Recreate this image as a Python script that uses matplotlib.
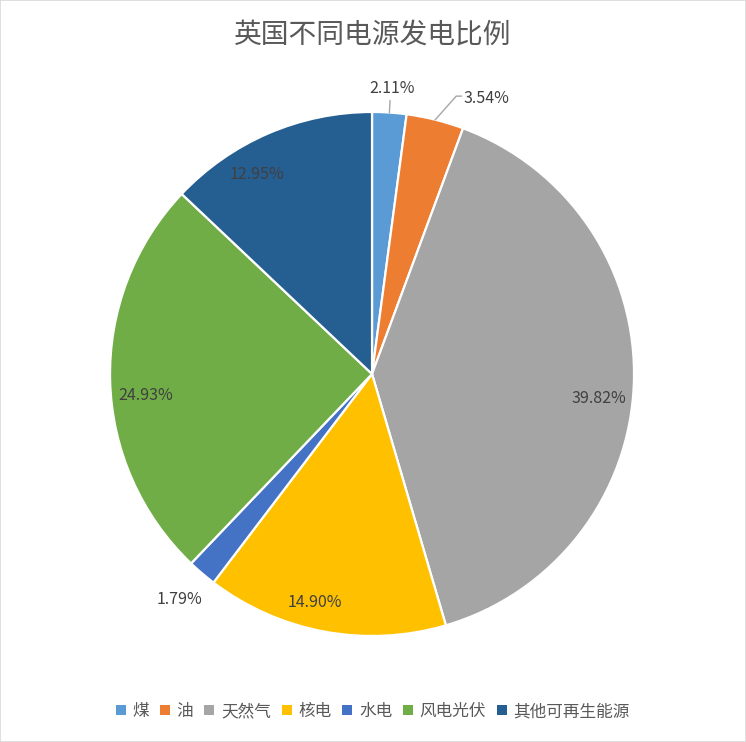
import numpy as np
import matplotlib.pyplot as plt
from matplotlib.patches import Patch, Rectangle

plt.rcParams['font.family'] = ['Noto Sans CJK SC', 'DejaVu Sans']

# data
sources = ['煤', '油', '天然气', '核电', '水电', '风电光伏', '其他可再生能源']
shares = [2.11, 3.54, 39.82, 14.90, 1.79, 24.93, 12.95]
colors = ['#5B9BD5', '#ED7D31', '#A5A5A5', '#FFC000', '#4472C4', '#70AD47', '#255E91']

# label placement (radius as fraction of pie radius, extra angle in degrees)
label_r = [1.098, 1.145, 0.87, 0.894, 1.126, 0.866, 0.886]
label_da = [0.2, 8.5, 3.6, 3.8, 0.4, -3.5, -6.3]

fig = plt.figure(figsize=(7.46, 7.42), dpi=100)
fig.patches.append(Rectangle((0, 0), 1, 1, transform=fig.transFigure,
                             fill=False, edgecolor='#D9D9D9', linewidth=1.2))

ax = fig.add_axes([0.1475, 0.1429, 0.7024, 0.7062])
wedges, _ = ax.pie(shares, colors=colors, startangle=90, counterclock=False,
                   radius=1.0, wedgeprops=dict(edgecolor='white', linewidth=1.6))
ax.set_xlim(-1, 1)
ax.set_ylim(-1, 1)
ax.set_aspect('equal')
ax.axis('off')

total = sum(shares)
cum = 0.0
for i, v in enumerate(shares):
    mid = (cum + v / 2) / total * 360.0
    cum += v
    ang = np.deg2rad(90 - mid - label_da[i])
    x = label_r[i] * np.cos(ang)
    y = label_r[i] * np.sin(ang)
    ax.annotate(f'{v:.2f}%', (x, y), xytext=(0, -2), textcoords='offset pixels',
                ha='center', va='center', fontsize=11.5, color='#404040',
                annotation_clip=False)

# leader lines for the two small top slices
def edge(frac_pct):
    a = np.deg2rad(90 - frac_pct / total * 360.0)
    return np.cos(a), np.sin(a)

x0, y0 = edge(shares[0] / 2)
ax.plot([x0 * 1.0, x0 * 1.04], [y0 * 1.0, y0 * 1.045], color='#A6A6A6',
        lw=1, clip_on=False)
x1, y1 = edge(shares[0] + shares[1] / 2)
ax.plot([x1, x1 + 0.08, x1 + 0.1], [y1, y1 + 0.09, y1 + 0.09],
        color='#A6A6A6', lw=1, clip_on=False)

fig.text(0.5, 0.953, '英国不同电源发电比例', ha='center', va='center',
         fontsize=20, color='#595959')

handles = [Patch(facecolor=c, edgecolor='none') for c in colors]
fig.legend(handles, sources, loc='center', bbox_to_anchor=(0.5, 0.041), ncol=7,
           frameon=False, fontsize=12, labelcolor='#595959',
           handlelength=0.6, handleheight=0.6, handletextpad=0.4,
           columnspacing=0.65)

fig.savefig('out.png', dpi=100, facecolor='white')
